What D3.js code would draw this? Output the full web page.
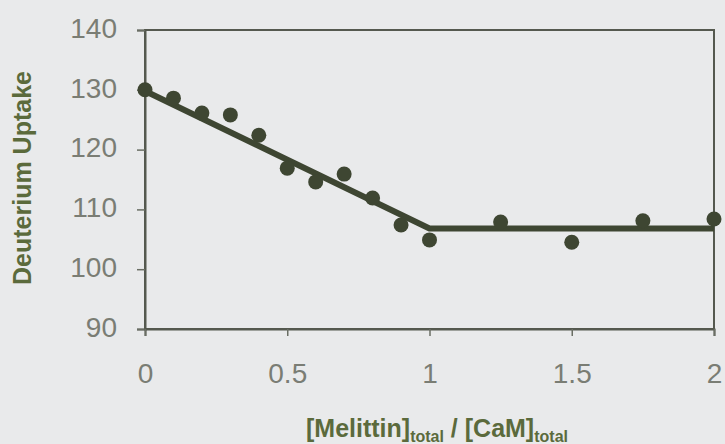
<!DOCTYPE html>
<html lang="en">
<head>
<meta charset="utf-8">
<title>Deuterium uptake vs melittin / CaM</title>
<script src="https://d3js.org/d3.v7.min.js"></script>
<style type="text/css">
  body { margin: 0; background: #e9eaeb; }
  svg { display: block; font-family: "Liberation Sans", Arial, sans-serif; }
</style>
</head>
<body>
<script type="text/javascript">
// data
var ratio  = [0, 0.1, 0.2, 0.3, 0.4, 0.5, 0.6, 0.7, 0.8, 0.9, 1.0, 1.25, 1.5, 1.75, 2.0];
var uptake = [130, 128.6, 126.1, 125.8, 122.4, 116.9, 114.6, 115.9, 111.9, 107.4, 104.9, 107.9, 104.5, 108.1, 108.4];
// two-segment fit: slope down to ratio 1, then flat
var fitX = [0, 1, 2];
var fitY = [129.8, 106.8, 106.8];
var xTicks = [0, 0.5, 1, 1.5, 2];
var yTicks = [90, 100, 110, 120, 130, 140];

var width = 725, height = 444;
var margin = {top: 30, right: 11, bottom: 115, left: 145};
var w = width - margin.left - margin.right,
    h = height - margin.top - margin.bottom;

var textColor = "#5b6a3c",
    inkColor = "#3e4632";

var svg = d3.select("body").append("svg")
  .attr("width", width)
  .attr("height", height);

svg.append("rect").attr("width", width).attr("height", height).attr("fill", "#e9eaeb");

var g = svg.append("g")
  .attr("transform", "translate(" + margin.left + "," + margin.top + ")");

var x = d3.scaleLinear().domain([0, 2]).range([0, w]);
var y = d3.scaleLinear().domain([90, 140]).range([h, 0]);

// plot frame
g.append("rect")
  .attr("width", w).attr("height", h)
  .attr("fill", "none")
  .attr("stroke", "#55594f")
  .attr("stroke-width", 2);

// y axis
var yAxis = g.append("g")
  .call(d3.axisLeft(y).tickValues(yTicks).tickSize(8).tickPadding(20).tickFormat(d3.format("d")));
yAxis.select(".domain").attr("stroke", "#55594f").attr("stroke-width", 2);
yAxis.selectAll(".tick line").attr("stroke", "#6a6e64").attr("stroke-width", 1.5);
yAxis.selectAll(".tick text")
  .attr("fill", "#7a7d74").attr("font-size", 28).attr("dy", "0.26em");

// x axis
var xAxis = g.append("g")
  .attr("transform", "translate(0," + h + ")")
  .call(d3.axisBottom(x).tickValues(xTicks).tickSize(7).tickPadding(27).tickFormat(d3.format("")));
xAxis.select(".domain").attr("stroke", "#55594f").attr("stroke-width", 2);
xAxis.selectAll(".tick line").attr("stroke", "#6a6e64").attr("stroke-width", 1.5);
xAxis.selectAll(".tick text")
  .attr("fill", "#7a7d74").attr("font-size", 28);

// fit line
var line = d3.line()
  .x(function(d, i) { return x(fitX[i]); })
  .y(function(d) { return y(d); });

g.append("path")
  .datum(fitY)
  .attr("d", line)
  .attr("fill", "none")
  .attr("stroke", inkColor)
  .attr("stroke-width", 6)
  .attr("stroke-linejoin", "round");

// points
g.selectAll("circle.pt")
  .data(uptake)
  .enter()
  .append("circle")
  .attr("class", "pt")
  .attr("cx", function(d, i) { return x(ratio[i]); })
  .attr("cy", function(d) { return y(d); })
  .attr("r", 7.5)
  .attr("fill", inkColor);

// y title
svg.append("text")
  .attr("transform", "translate(31,178) rotate(-90)")
  .attr("text-anchor", "middle")
  .attr("font-size", 25)
  .attr("font-weight", "bold")
  .attr("fill", textColor)
  .text("Deuterium Uptake");

// x title with subscripts
var xt = svg.append("text")
  .attr("x", 437)
  .attr("y", 437)
  .attr("text-anchor", "middle")
  .attr("font-weight", "bold")
  .attr("font-size", 25)
  .attr("fill", textColor);
xt.append("tspan").text("[Melittin]");
xt.append("tspan").attr("font-size", 16).attr("dy", 5).text("total");
xt.append("tspan").attr("dy", -5).text(" / [CaM]");
xt.append("tspan").attr("font-size", 16).attr("dy", 5).text("total");
</script>
</body>
</html>
